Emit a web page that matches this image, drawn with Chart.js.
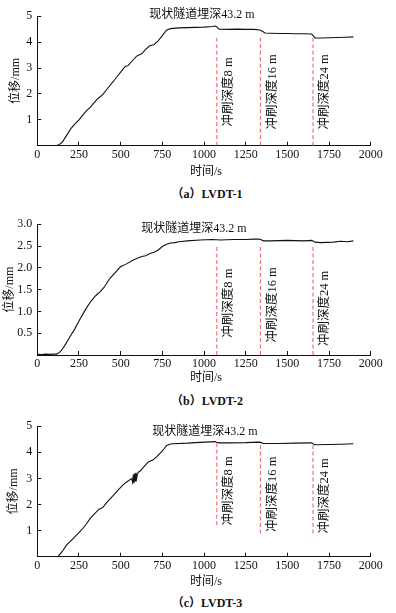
<!DOCTYPE html>
<html>
<head>
<meta charset="utf-8">
<script src="https://cdn.jsdelivr.net/npm/chart.js@4.4.1/dist/chart.umd.min.js"></script>
<style>
  html, body { margin: 0; padding: 0; background: #fff; }
  body { width: 396px; height: 613px; position: relative; overflow: hidden; }
  canvas { position: absolute; left: 0; }
  .cap { position: absolute; left: 0; width: 414px; text-align: center;
         font: bold 12px "Liberation Serif", "Noto Sans CJK SC", serif; color: #111; }
</style>
</head>
<body>
<canvas id="c1"></canvas>
<div class="cap" style="top:184px">（a）LVDT-1</div>
<canvas id="c2"></canvas>
<div class="cap" style="top:391px">（b）LVDT-2</div>
<canvas id="c3"></canvas>
<div class="cap" style="top:593px">（c）LVDT-3</div>
<script>
// ---- data ----
const xTicks = [0, 250, 500, 750, 1000, 1250, 1500, 1750, 2000];
const scourTimes = [1077, 1338, 1654];
const scourLabels = ['冲刷深度8 m', '冲刷深度16 m', '冲刷深度24 m'];
const headline = '现状隧道埋深43.2 m';
const xName = '时间/s';
const yName = '位移/mm';

// LVDT-1
const t1 = [0, 50, 100, 115, 130, 150, 176, 200, 225, 250, 275, 300, 316, 340, 360, 370, 380, 396, 420, 456, 480, 500, 526, 546, 570, 596, 610, 626, 650, 676, 700, 725, 750, 776, 800, 816, 850, 900, 950, 1000, 1050, 1070, 1078, 1090, 1150, 1200, 1250, 1300, 1336, 1350, 1366, 1400, 1450, 1500, 1550, 1600, 1646, 1656, 1666, 1700, 1750, 1800, 1850, 1896];
const d1 = [0, 0, 0, 0.01, 0.04, 0.14, 0.4, 0.65, 0.83, 1.0, 1.2, 1.38, 1.47, 1.65, 1.8, 1.86, 1.9, 2.0, 2.2, 2.48, 2.68, 2.84, 3.05, 3.1, 3.28, 3.46, 3.5, 3.55, 3.72, 3.87, 3.9, 4.05, 4.25, 4.47, 4.52, 4.53, 4.55, 4.56, 4.57, 4.58, 4.6, 4.62, 4.58, 4.5, 4.49, 4.5, 4.49, 4.49, 4.47, 4.42, 4.35, 4.34, 4.33, 4.33, 4.32, 4.32, 4.31, 4.24, 4.16, 4.16, 4.17, 4.18, 4.19, 4.2];

// LVDT-2
const t2 = [0, 25, 50, 75, 100, 116, 130, 146, 170, 196, 225, 250, 275, 300, 325, 350, 376, 400, 436, 470, 500, 530, 576, 600, 626, 650, 676, 700, 726, 750, 775, 800, 826, 850, 900, 976, 1050, 1100, 1176, 1250, 1300, 1326, 1340, 1356, 1400, 1500, 1600, 1646, 1656, 1666, 1700, 1776, 1820, 1860, 1896];
const d2 = [0.015, 0.01, 0.02, 0.015, 0.02, 0.02, 0.05, 0.11, 0.25, 0.42, 0.6, 0.78, 0.95, 1.11, 1.25, 1.36, 1.45, 1.55, 1.76, 1.9, 2.03, 2.08, 2.18, 2.22, 2.26, 2.28, 2.33, 2.36, 2.41, 2.49, 2.54, 2.57, 2.58, 2.6, 2.62, 2.64, 2.65, 2.64, 2.65, 2.65, 2.66, 2.66, 2.65, 2.62, 2.62, 2.63, 2.62, 2.63, 2.61, 2.59, 2.58, 2.59, 2.61, 2.6, 2.62];

// LVDT-3
const t3 = [0, 50, 100, 126, 150, 176, 200, 225, 250, 275, 300, 316, 340, 370, 385, 396, 420, 456, 480, 516, 540, 566, 572, 576, 580, 584, 588, 592, 596, 600, 606, 616, 640, 666, 696, 720, 750, 776, 800, 816, 900, 976, 1040, 1066, 1080, 1096, 1150, 1250, 1326, 1340, 1356, 1450, 1550, 1646, 1656, 1666, 1750, 1820, 1896];
const d3 = [0, 0.01, 0, 0.02, 0.2, 0.45, 0.6, 0.76, 0.92, 1.1, 1.3, 1.46, 1.62, 1.82, 1.86, 1.91, 2.1, 2.35, 2.52, 2.76, 2.88, 2.99, 2.85, 3.15, 2.82, 3.2, 2.9, 3.22, 3.0, 3.15, 3.24, 3.27, 3.45, 3.63, 3.71, 3.85, 4.05, 4.26, 4.32, 4.33, 4.35, 4.38, 4.4, 4.41, 4.37, 4.36, 4.36, 4.37, 4.39, 4.38, 4.34, 4.34, 4.35, 4.36, 4.32, 4.29, 4.3, 4.31, 4.33];

// ---- layout per panel (pixel positions are page coords) ----
const panels = [
  { id: 'c1', top: 0,   area: [13.3, 145.7], xTitle: 172,   yTitleX: 16, t: t1, d: d1, yMax: 5, yStep: 1, dec: 0,
    markTop: [4.18, 4.18, 4.18], markBot: [0, 0, 0], labY: [2.08, 2.08, 2.08], headX: 202, headY: 15 },
  { id: 'c2', top: 195, area: [224.3, 355],  xTitle: 377.7, yTitleX: 10, t: t2, d: d2, yMax: 3, yStep: 0.5, dec: 1,
    markTop: [2.52, 2.52, 2.52], markBot: [0, 0, 0], labY: [1.19, 1.15, 1.07], headX: 194, headY: 228.5 },
  { id: 'c3', top: 410, area: [425.7, 556.7], xTitle: 582.3, yTitleX: 14, t: t3, d: d3, yMax: 5, yStep: 1, dec: 0,
    markTop: [4.33, 4.33, 4.33], markBot: [1.21, 0.89, 0.89], labY: [2.52, 2.39, 2.33], headX: 205, headY: 432 }
];

const FONT = '"Liberation Serif", "Noto Sans CJK SC", serif';
const RED = '#f2545b';

const notePlugin = {
  id: 'notes',
  afterDatasetsDraw(chart, args, opts) {
    const ctx = chart.ctx;
    const xs = chart.scales.x, ys = chart.scales.y;
    const area = chart.chartArea;
    ctx.save();
    ctx.fillStyle = '#111';
    ctx.textAlign = 'center';
    ctx.textBaseline = 'middle';
    ctx.font = '12.5px ' + FONT;
    scourLabels.forEach((lab, i) => {
      const px = xs.getPixelForValue(scourTimes[i]) + 12;
      const py = ys.getPixelForValue(opts.labY[i]);
      ctx.save();
      ctx.translate(px, py);
      ctx.rotate(-Math.PI / 2);
      ctx.fillText(lab, 0, 0);
      ctx.restore();
    });
    ctx.font = '12px ' + FONT;
    ctx.fillText(headline, opts.headX, opts.headY);
    // axis names
    ctx.fillText(xName, (area.left + area.right) / 2 + 2, opts.xTitleY);
    ctx.save();
    ctx.translate(opts.yTitleX, (area.top + area.bottom) / 2);
    ctx.rotate(-Math.PI / 2);
    ctx.fillText(yName, 0, 0);
    ctx.restore();
    ctx.restore();
  }
};

panels.forEach(p => {
  const cv = document.getElementById(p.id);
  const h = Math.round(p.xTitle + 10 - p.top);
  cv.style.top = p.top + 'px';
  cv.width = 396; cv.height = h;
  cv.style.width = '396px'; cv.style.height = h + 'px';

  const datasets = [{
    data: p.t.map((x, i) => ({ x: x, y: p.d[i] })),
    borderColor: '#111', borderWidth: 1.1, pointRadius: 0, tension: 0
  }];
  scourTimes.forEach((s, i) => {
    datasets.push({
      data: [{ x: s, y: p.markBot[i] }, { x: s, y: p.markTop[i] }],
      borderColor: RED, borderWidth: 1, borderDash: [4, 2.5], pointRadius: 0
    });
  });

  new Chart(cv, {
    type: 'line',
    data: { datasets: datasets },
    plugins: [notePlugin],
    options: {
      responsive: false,
      animation: false,
      events: [],
      layout: { padding: { left: 0, right: 25.3, top: p.area[0] - p.top, bottom: 0 } },
      plugins: {
        legend: { display: false },
        tooltip: { enabled: false },
        notes: { labY: p.labY, headX: p.headX, headY: p.headY - p.top,
                 xTitleY: p.xTitle - p.top, yTitleX: p.yTitleX }
      },
      scales: {
        x: {
          type: 'linear', min: 0, max: 2000,
          afterBuildTicks: s => { s.ticks = xTicks.map(v => ({ value: v })); },
          afterFit: s => { s.height = h - (p.area[1] - p.top); },
          border: { display: true, color: '#111', width: 1 },
          grid: { drawOnChartArea: false, drawTicks: true, tickLength: -4, color: '#111' },
          ticks: { color: '#111', padding: 6, font: { family: FONT, size: 12 }, maxRotation: 0,
                   callback: v => String(v) }
        },
        y: {
          type: 'linear', min: 0, max: p.yMax,
          ticks: { stepSize: p.yStep, color: '#111', padding: 9, font: { family: FONT, size: 12 },
                   callback: v => v === 0 ? '' : v.toFixed(p.dec) },
          afterFit: s => { s.width = 37.3; },
          border: { display: true, color: '#111', width: 1 },
          grid: { drawOnChartArea: false, drawTicks: true, tickLength: -4, color: '#111' }
        }
      }
    }
  });
});
</script>
</body>
</html>
